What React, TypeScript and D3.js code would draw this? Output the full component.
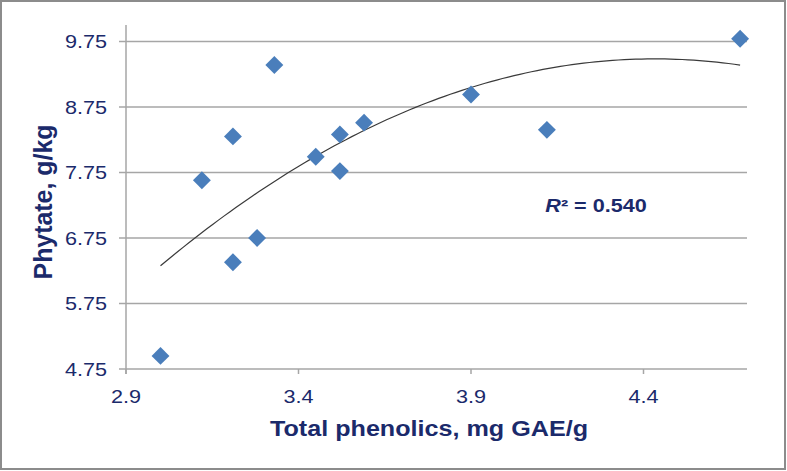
import React from "react";
import * as d3 from "d3";

const phenolics = [3.0, 3.12, 3.21, 3.33, 3.45, 3.52, 3.52, 3.59, 3.9, 4.12, 4.68, 3.21, 3.28];
const phytate = [4.95, 7.63, 8.3, 9.39, 7.99, 8.33, 7.77, 8.51, 8.94, 8.4, 9.79, 6.38, 6.75];
const xTicks = [2.9, 3.4, 3.9, 4.4];
const yTicks = [4.75, 5.75, 6.75, 7.75, 8.75, 9.75];
const r2Label = "0.540";

const W = 787, H = 471;
const left = 126, right = 747, top = 25, bottom = 369;
const navy = "#1b2a6b";

function fitQuadratic(xs: number[], ys: number[]) {
  const n = xs.length;
  let s1 = 0, s2 = 0, s3 = 0, s4 = 0, t0 = 0, t1 = 0, t2 = 0;
  for (let i = 0; i < n; i++) {
    const x = xs[i], y = ys[i];
    s1 += x; s2 += x * x; s3 += x ** 3; s4 += x ** 4;
    t0 += y; t1 += x * y; t2 += x * x * y;
  }
  const M = [[n, s1, s2, t0], [s1, s2, s3, t1], [s2, s3, s4, t2]];
  for (let i = 0; i < 3; i++) {
    for (let j = i + 1; j < 3; j++) {
      const f = M[j][i] / M[i][i];
      for (let k = i; k < 4; k++) M[j][k] -= f * M[i][k];
    }
  }
  const sol = [0, 0, 0];
  for (let i = 2; i >= 0; i--) {
    let s = M[i][3];
    for (let k = i + 1; k < 3; k++) s -= M[i][k] * sol[k];
    sol[i] = s / M[i][i];
  }
  return sol;
}

export default function App() {
  const x = d3.scaleLinear().domain([2.9, 4.7]).range([left, right]);
  const y = d3.scaleLinear().domain([4.75, 10.0]).range([bottom, top]);
  const [a, b, c] = fitQuadratic(phenolics, phytate);
  const xmin = d3.min(phenolics)!, xmax = d3.max(phenolics)!;
  const curvePts = d3.range(0, 101).map((i) => {
    const xv = xmin + ((xmax - xmin) * i) / 100;
    return [xv, a + b * xv + c * xv * xv] as [number, number];
  });
  const line = d3.line<[number, number]>().x((d) => x(d[0])).y((d) => y(d[1]));
  const diamond = d3.symbol().type(d3.symbolSquare).size(160)();

  return (
    <svg width={W} height={H} style={{ position: "absolute", left: 0, top: 0, background: "#fff" }}
      fontFamily="Arial, 'Liberation Sans', sans-serif">
      <rect x={1} y={1} width={W - 3} height={H - 3} fill="#fff" stroke="#8c8c8c" strokeWidth={2} />
      {yTicks.map((t) => (
        <g key={t}>
          <line x1={left - 7} x2={right} y1={y(t)} y2={y(t)} stroke="#a6a6a6" strokeWidth={1.5} />
          <text transform={`translate(107,${y(t) + 7}) scale(1.2,1)`} textAnchor="end" fontSize={18} fill={navy}>{t.toFixed(2)}</text>
        </g>
      ))}
      <line x1={left} x2={left} y1={top} y2={bottom + 5} stroke="#a6a6a6" strokeWidth={1.5} />
      {xTicks.map((t) => (
        <g key={t}>
          <line x1={x(t)} x2={x(t)} y1={bottom} y2={bottom + 5} stroke="#a6a6a6" strokeWidth={1.5} />
          <text transform={`translate(${x(t)},403) scale(1.2,1)`} textAnchor="middle" fontSize={18} fill={navy}>{t.toFixed(1)}</text>
        </g>
      ))}
      <path d={line(curvePts)!} fill="none" stroke="#3a3a3a" strokeWidth={1.2} />
      {phenolics.map((pv, i) => (
        <path key={i} d={diamond!} transform={`translate(${x(pv)},${y(phytate[i])}) rotate(45)`} fill="#4a7ebb" />
      ))}
      <text transform="translate(596,212) scale(1.2,1)" textAnchor="middle" fontSize={18} fontWeight="bold" fill={navy}>
        <tspan fontStyle="italic">R</tspan>{"² = " + r2Label}
      </text>
      <text x={270} y={436} textLength={318} lengthAdjust="spacingAndGlyphs" fontSize={22} fontWeight="bold" fill={navy}>Total phenolics, mg GAE/g</text>
      <text transform="translate(52,202) scale(1.15,1) rotate(-90)" textAnchor="middle" textLength={155} lengthAdjust="spacingAndGlyphs" fontSize={23} fontWeight="bold" fill={navy}>Phytate, g/kg</text>
    </svg>
  );
}
